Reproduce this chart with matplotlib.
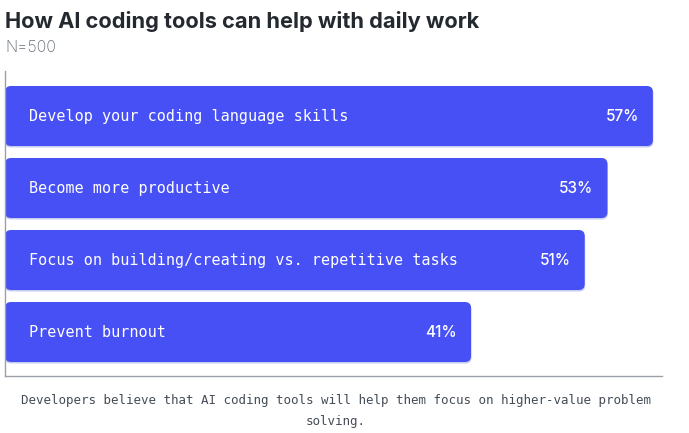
import matplotlib
matplotlib.use('Agg')
import matplotlib.pyplot as plt
from matplotlib.patches import FancyBboxPatch

labels = ['Develop your coding language skills',
          'Become more productive',
          'Focus on building/creating vs. repetitive tasks',
          'Prevent burnout']
values = [57, 53, 51, 41]

title = 'How AI coding tools can help with daily work'
subtitle = 'N=500'
note = 'Developers believe that AI coding tools will help them focus on higher-value problem\nsolving.'

bar_color = '#4650F5'

W, H = 689, 433
fig = plt.figure(figsize=(W / 100, H / 100), dpi=100)
ax = fig.add_axes([5 / W, 1 - 376 / H, (662 - 5) / W, (376 - 71) / H])

xmax = 57.8
ylo, yhi = 3.611, -0.625
ax.set_xlim(0, xmax)
ax.set_ylim(ylo, yhi)

# px per data unit, used for rounded corners and offsets
px_x = (662 - 5) / xmax
px_y = (376 - 71) / (ylo - yhi)
r = 6 / px_x
h = 60 / px_y

for i, (lab, v) in enumerate(zip(labels, values)):
    # soft shadow
    sh = FancyBboxPatch((0, i - h / 2 + 1.5 / px_y), v + 0.5 / px_x, h,
                        boxstyle=f'round,pad=0,rounding_size={r}',
                        mutation_aspect=px_x / px_y,
                        fc='#c8ccf0', ec='none', zorder=1)
    ax.add_patch(sh)
    p = FancyBboxPatch((0, i - h / 2), v, h,
                       boxstyle=f'round,pad=0,rounding_size={r}',
                       mutation_aspect=px_x / px_y,
                       fc=bar_color, ec='none', zorder=2)
    ax.add_patch(p)
    ax.text(24 / px_x, i, lab, color='white', fontsize=10.9,
            family='DejaVu Sans Mono', va='center', ha='left', zorder=3)
    ax.text(v - 14 / px_x, i, f'{v}%', color='white', fontsize=11,
            family='Inter', fontweight='medium', va='center', ha='right', zorder=3)

for s in ['top', 'right']:
    ax.spines[s].set_visible(False)
ax.spines['left'].set_color('#9aa0a8')
ax.spines['bottom'].set_color('#9aa0a8')
ax.spines['left'].set_linewidth(1)
ax.spines['bottom'].set_linewidth(1)
ax.set_xticks([])
ax.set_yticks([])

fig.text(5 / W, 1 - 22 / H, title, fontsize=15.7, fontweight='bold',
         family='Inter', color='#24292f', va='center', ha='left')
fig.text(5 / W, 1 - 47 / H, subtitle, fontsize=11.5, family='Inter',
         color='#656d76', va='center', ha='left', fontweight='light')
fig.text(336 / W, 1 - 411 / H, note, fontsize=9, family='DejaVu Sans Mono',
         color='#444c56', va='center', ha='center', linespacing=1.75)

fig.savefig('out.png', dpi=100)
